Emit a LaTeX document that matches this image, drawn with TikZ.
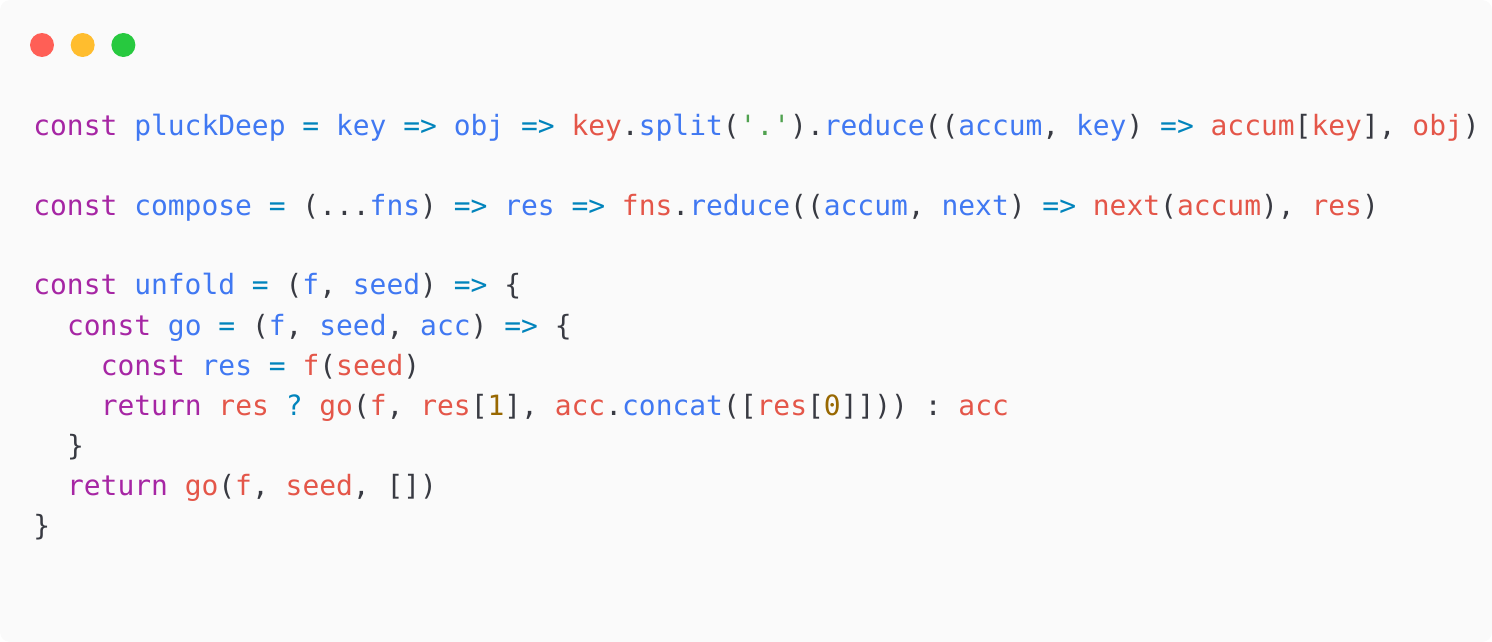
\documentclass[tikz,border=0pt]{standalone}
\usepackage{fontspec}
\setmonofont{DejaVu Sans Mono}
\usetikzlibrary{positioning}
\definecolor{bgwin}{RGB}{250,250,250}
\definecolor{kwpurple}{RGB}{166,38,164}
\definecolor{idblue}{RGB}{64,120,242}
\definecolor{opcyan}{RGB}{1,132,188}
\definecolor{varred}{RGB}{228,86,73}
\definecolor{strgreen}{RGB}{80,161,79}
\definecolor{numorange}{RGB}{152,104,1}
\definecolor{plaintext}{RGB}{56,58,66}
\newcommand{\kw}[1]{\textcolor{kwpurple}{#1}}
\newcommand{\idb}[1]{\textcolor{idblue}{#1}}
\newcommand{\op}[1]{\textcolor{opcyan}{#1}}
\newcommand{\vr}[1]{\textcolor{varred}{#1}}
\newcommand{\st}[1]{\textcolor{strgreen}{#1}}
\newcommand{\nm}[1]{\textcolor{numorange}{#1}}

\begin{document}
\begin{tikzpicture}[x=0.02cm,y=-0.02cm]
        \tikzset{codeline/.style={anchor=base west, inner sep=0pt, text=plaintext, font=\ttfamily\fontsize{15.9}{19}\selectfont},
                 dot/.style={circle, minimum size=0.48cm, inner sep=0pt}}
        \fill[bgwin, rounded corners=0.2cm] (0,0) rectangle (1492,642);
        \useasboundingbox (0,0) rectangle (1492,642);
        
        \node[dot, fill={rgb,255:red,255;green,95;blue,86}] (red) at (42,45) {};
        \node[dot, fill={rgb,255:red,255;green,189;blue,46}, right=0.32cm of red] (yellow) {};
        \node[dot, fill={rgb,255:red,39;green,201;blue,63}, right=0.32cm of yellow] (green) {};
        
        \node[codeline] (l1) at (33,135) {\kw{const} \idb{pluckDeep} \op{=} \idb{key} \op{=>} \idb{obj} \op{=>} \vr{key}.\idb{split}(\st{'.'}).\idb{reduce}((\idb{accum}, \idb{key}) \op{=>} \vr{accum}[\vr{key}], \vr{obj})};
        \node[codeline] (l2) at (33,215) {\kw{const} \idb{compose} \op{=} (...\idb{fns}) \op{=>} \idb{res} \op{=>} \vr{fns}.\idb{reduce}((\idb{accum}, \idb{next}) \op{=>} \vr{next}(\vr{accum}), \vr{res})};
        \node[codeline] (l3) at (33,295) {\kw{const} \idb{unfold} \op{=} (\idb{f}, \idb{seed}) \op{=>} \{};
        \node[codeline] (l4) at (66.7,335) {\kw{const} \idb{go} \op{=} (\idb{f}, \idb{seed}, \idb{acc}) \op{=>} \{};
        \node[codeline] (l5) at (100.4,375) {\kw{const} \idb{res} \op{=} \vr{f}(\vr{seed})};
        \node[codeline] (l6) at (100.4,415) {\kw{return} \vr{res} \op{?} \vr{go}(\vr{f}, \vr{res}[\nm{1}], \vr{acc}.\idb{concat}([\vr{res}[\nm{0}]])) : \vr{acc}};
        \node[codeline] (l7) at (66.7,455) {\}};
        \node[codeline] (l8) at (66.7,495) {\kw{return} \vr{go}(\vr{f}, \vr{seed}, [])};
        \node[codeline] (l9) at (33,535) {\}};
    \end{tikzpicture}
\end{document}
